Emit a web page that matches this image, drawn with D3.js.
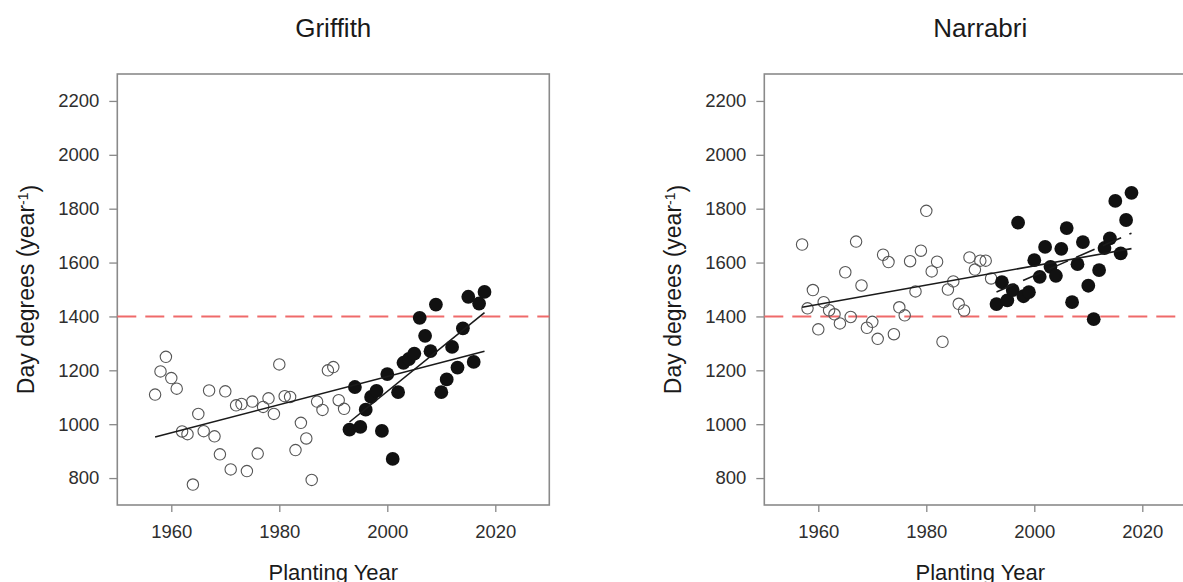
<!DOCTYPE html>
<html>
<head>
<meta charset="utf-8">
<script src="https://cdn.jsdelivr.net/npm/d3@7"></script>
<style>
  body { margin: 0; background: #fff; }
  svg { display: block; font-family: "Liberation Sans", Arial, sans-serif; }
</style>
</head>
<body>
<svg id="chart" width="1183" height="582"></svg>
<script>
// planting years, split at 1993 (open vs filled markers)
var earlyYears = [1957,1958,1959,1960,1961,1962,1963,1964,1965,1966,1967,1968,1969,1970,1971,1972,
  1973,1974,1975,1976,1977,1978,1979,1980,1981,1982,1983,1984,1985,1986,1987,1988,1989,1990,1991,1992];
var lateYears = [1993,1994,1995,1996,1997,1998,1999,2000,2001,2002,2003,2004,2005,2006,2007,2008,
  2009,2010,2011,2012,2013,2014,2015,2016,2017,2018];

// day degrees
var griffithEarly = [1110,1196,1250,1171,1132,973,963,776,1038,974,1125,955,888,1122,832,1070,
  1075,826,1084,891,1064,1096,1038,1222,1104,1101,904,1005,947,793,1084,1053,1200,1212,1089,1057];
var griffithLate = [980,1138,990,1054,1101,1124,975,1186,871,1119,1228,1242,1262,1395,1328,1271,
  1444,1119,1166,1287,1210,1356,1473,1231,1448,1491];
var narrabriEarly = [1667,1430,1498,1352,1453,1423,1408,1374,1564,1398,1678,1515,1358,1380,1317,1629,
  1602,1334,1434,1404,1605,1493,1644,1792,1567,1603,1306,1500,1530,1447,1422,1619,1574,1607,1607,1541];
var narrabriLate = [1446,1527,1460,1498,1748,1475,1490,1609,1547,1658,1584,1551,1651,1728,1453,1594,
  1676,1514,1390,1572,1654,1690,1829,1634,1758,1859];

var xTicks = [1960, 1980, 2000, 2020];
var yTicks = [800, 1000, 1200, 1400, 1600, 1800, 2000, 2200];
var threshold = 1400;

var W = 432, H = 431;
var x = d3.scaleLinear().domain([1950, 2030]).range([0, W]);
var y = d3.scaleLinear().domain([700, 2300]).range([H, 0]);

var svg = d3.select("#chart");

// least squares fit, returns endpoints over the years given
function fitLine(xs, ys) {
  var mx = d3.mean(xs), my = d3.mean(ys);
  var sxy = 0, sxx = 0;
  for (var i = 0; i < xs.length; i++) {
    sxy += (xs[i] - mx) * (ys[i] - my);
    sxx += (xs[i] - mx) * (xs[i] - mx);
  }
  var b = sxy / sxx, a = my - b * mx;
  var x0 = d3.min(xs), x1 = d3.max(xs);
  return [[x0, a + b * x0], [x1, a + b * x1]];
}

function zip(xs, ys) {
  return xs.map(function(d, i) { return [d, ys[i]]; });
}

function drawPanel(left, title, early, late, lateDashed) {
  var g = svg.append("g").attr("transform", "translate(" + left + ",74)");

  // axes
  var ya = g.append("g")
    .call(d3.axisLeft(y).tickValues(yTicks).tickSize(8).tickPadding(10).tickFormat(d3.format("d")));
  var xa = g.append("g").attr("transform", "translate(0," + H + ")")
    .call(d3.axisBottom(x).tickValues(xTicks).tickSize(7).tickPadding(13).tickFormat(d3.format("d")));
  [ya, xa].forEach(function(a) {
    a.select(".domain").remove();
    a.selectAll(".tick line").attr("stroke", "#888").attr("stroke-width", 1.3);
    a.selectAll(".tick text").attr("fill", "#2e2e2e").style("font-size", "18.5px");
  });

  // frame
  g.append("rect")
    .attr("width", W).attr("height", H)
    .attr("fill", "none").attr("stroke", "#8a8a8a").attr("stroke-width", 1.6);

  // threshold line
  g.append("line")
    .attr("x1", 0).attr("x2", W)
    .attr("y1", y(threshold)).attr("y2", y(threshold))
    .attr("stroke", "#ef6a6a").attr("stroke-width", 2)
    .attr("stroke-dasharray", "19,9");

  var line = d3.line().x(function(d) { return x(d[0]); }).y(function(d) { return y(d[1]); });

  // open markers (up to 1992)
  g.selectAll(".early")
    .data(zip(earlyYears, early))
    .enter().append("circle")
    .attr("class", "early")
    .attr("cx", function(d) { return x(d[0]); })
    .attr("cy", function(d) { return y(d[1]); })
    .attr("r", 5.7)
    .attr("fill", "none")
    .attr("stroke", "#555")
    .attr("stroke-width", 1.1);

  // filled markers (1993 on)
  g.selectAll(".late")
    .data(zip(lateYears, late))
    .enter().append("circle")
    .attr("class", "late")
    .attr("cx", function(d) { return x(d[0]); })
    .attr("cy", function(d) { return y(d[1]); })
    .attr("r", 6.9)
    .attr("fill", "#111");

  // trend over whole record
  g.append("path")
    .attr("d", line(fitLine(earlyYears.concat(lateYears), early.concat(late))))
    .attr("fill", "none").attr("stroke", "#1a1a1a").attr("stroke-width", 1.6);

  // trend over recent period
  g.append("path")
    .attr("d", line(fitLine(lateYears, late)))
    .attr("fill", "none").attr("stroke", "#1a1a1a").attr("stroke-width", 1.6)
    .attr("stroke-dasharray", lateDashed ? "20,9" : null);

  // titles
  g.append("text")
    .attr("x", W / 2).attr("y", -37)
    .attr("text-anchor", "middle")
    .attr("fill", "#1a1a1a")
    .style("font-size", "26px")
    .text(title);

  g.append("text")
    .attr("x", W / 2).attr("y", H + 75)
    .attr("text-anchor", "middle")
    .attr("fill", "#1a1a1a")
    .style("font-size", "22px")
    .text("Planting Year");

  var yt = g.append("text")
    .attr("transform", "translate(-83," + (H / 2) + ") rotate(-90)")
    .attr("text-anchor", "middle")
    .attr("fill", "#1a1a1a")
    .style("font-size", "23px");
  yt.append("tspan").text("Day degrees (year");
  yt.append("tspan").attr("dy", "-0.45em").style("font-size", "14px").text("-1");
  yt.append("tspan").attr("dy", "0.45em").text(")");
}

drawPanel(117.3, "Griffith", griffithEarly, griffithLate, false);
drawPanel(764.3, "Narrabri", narrabriEarly, narrabriLate, true);
</script>
</body>
</html>
